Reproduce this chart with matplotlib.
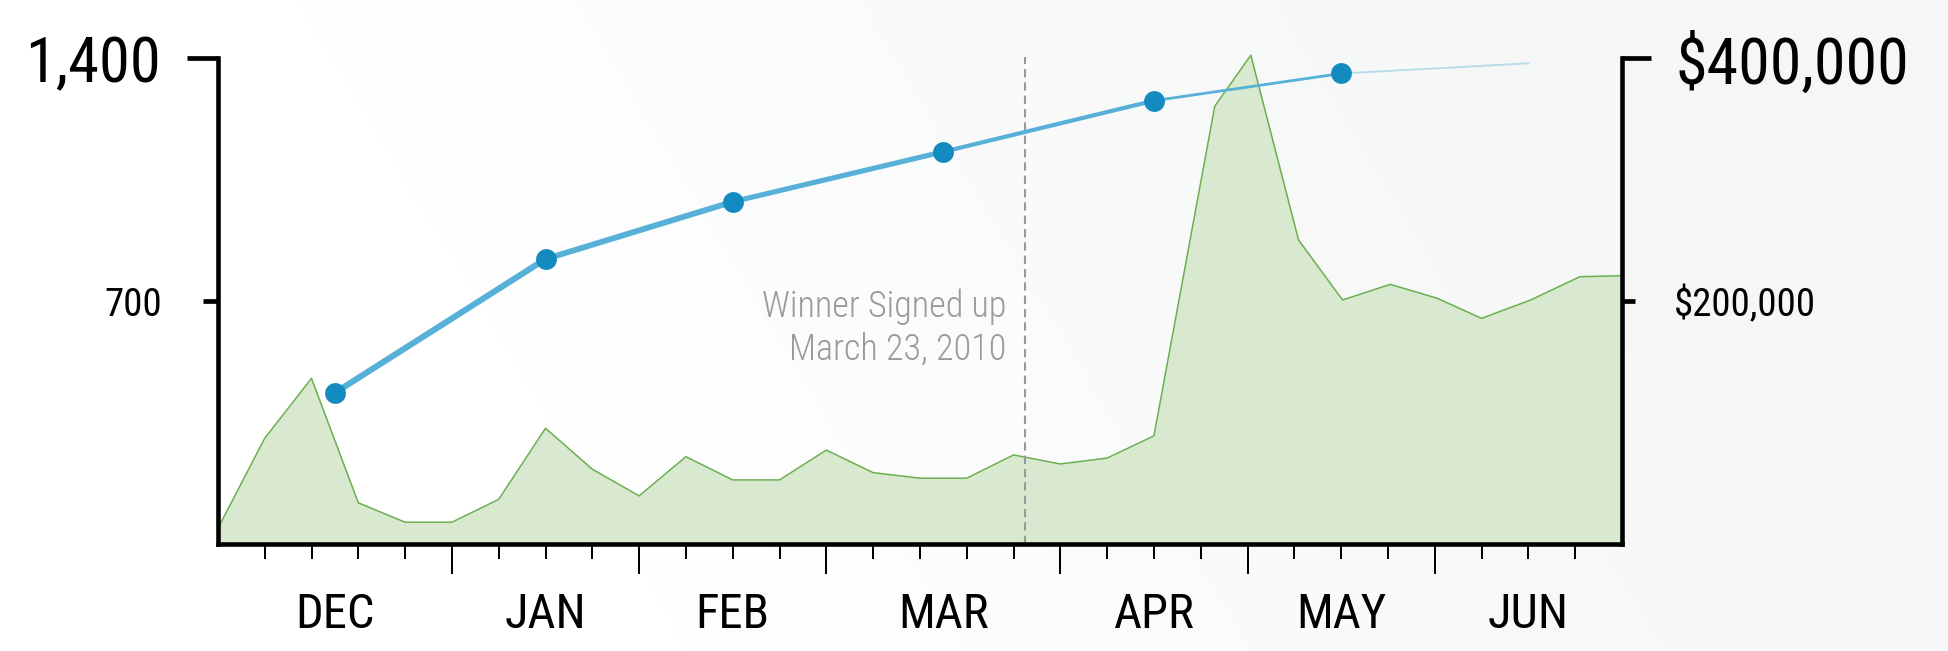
import numpy as np
import matplotlib.pyplot as plt
from matplotlib.colors import LinearSegmentedColormap

plt.rcParams['font.family'] = ['Roboto Condensed', 'Liberation Sans Narrow', 'DejaVu Sans']

# weekly signups (left axis), x in weeks from start of chart
weeks = [0, 1, 2, 3, 4, 5, 6, 7, 8, 9, 10, 11, 12, 13, 14, 15, 16, 17, 18, 19, 20,
         21.3, 22.07, 23.09, 24.03, 25.05, 26.05, 27, 28.05, 29.1, 30]
signups = [44, 304, 477, 118, 62, 62, 128, 333, 215, 138, 251, 184, 184, 270, 205,
           189, 189, 256, 230, 247, 311, 1262, 1409, 876, 703, 748, 708, 650, 703, 770, 773]

# cumulative revenue (right axis), one point per month
months = ['DEC', 'JAN', 'FEB', 'MAR', 'APR', 'MAY', 'JUN']
month_mid = [2.5, 7, 11, 15.5, 20, 24, 28]
month_edges = [5, 9, 13, 18, 22, 26]
revenue = [124400, 234600, 281800, 323000, 365100, 387500, 395900]

signup_x = 17.25
note = 'Winner Signed up\nMarch 23, 2010'

fig = plt.figure(figsize=(19.49, 6.51), dpi=100)

# soft background gradient
bg = fig.add_axes([0, 0, 1, 1], zorder=-10)
xx, yy = np.meshgrid(np.linspace(0, 1, 400), np.linspace(0, 1, 140))
t = np.clip((xx - 0.35 + 0.2 * yy) / 0.65, 0, 1)
cmap = LinearSegmentedColormap.from_list('bg', ['#ffffff', '#f5f6f6'])
bg.imshow(t, cmap=cmap, extent=[0, 1, 0, 1], aspect='auto', origin='lower')
bg.axis('off')

ax = fig.add_axes([0.1118, 0.1648, 0.7204, 0.7456])
ax.patch.set_visible(False)
ax.fill_between(weeks, signups, color='#d9e9cf', lw=0, clip_on=False)
ax.plot(weeks, signups, color='#6aaf4f', lw=1.1, clip_on=False)
ax.plot([signup_x, signup_x], [0, 1405], color='#999999', lw=1.5,
        dashes=(4, 2.4), clip_on=False)
ax.text(signup_x - 0.4, 622, note, ha='right', va='center', fontsize=26,
        color='#9a9a9a', linespacing=1.25, fontweight='light')

ax.set_xlim(0, 30)
ax.set_ylim(0, 1400)

for s in ['top', 'right']:
    ax.spines[s].set_visible(False)
for s in ['left', 'bottom']:
    ax.spines[s].set_linewidth(3.3)
    ax.spines[s].set_capstyle('projecting')

ax.set_yticks([1400], labels=['1,400'])
ax.set_yticks([700], labels=['700'], minor=True)
ax.tick_params(axis='y', which='major', length=22, width=3.4, pad=19, labelsize=45)
ax.tick_params(axis='y', which='minor', length=10.8, width=3.4, pad=29, labelsize=28)

ax.set_xticks(month_edges)
ax.set_xticks([w for w in range(1, 30) if w not in month_edges], minor=True)
ax.tick_params(axis='x', which='major', length=21.6, width=1.44, labelbottom=False)
ax.tick_params(axis='x', which='minor', length=10.8, width=1.44, labelbottom=False)

for m, x in zip(months, month_mid):
    ax.text(x, -0.146, m, transform=ax.get_xaxis_transform(), ha='center',
            va='center', fontsize=35)

ax2 = ax.twinx()
ax2.patch.set_visible(False)
ax2.set_ylim(0, 400000)
for s in ['top', 'left', 'bottom']:
    ax2.spines[s].set_visible(False)
ax2.spines['right'].set_linewidth(3.3)
ax2.spines['right'].set_capstyle('projecting')
ax2.set_yticks([400000], labels=['$400,000'])
ax2.set_yticks([200000], labels=['$200,000'], minor=True)
ax2.tick_params(axis='y', which='major', length=21, width=3.4, pad=17.6, labelsize=46)
ax2.tick_params(axis='y', which='minor', length=9, width=3.4, pad=28.4, labelsize=28)

# revenue line gets thinner toward the end, last piece is a faded projection
widths = [4.4, 4.2, 3.7, 3.0, 2.0, 1.3]
alphas = [1, 1, 1, 1, 1, 0.4]
for i in range(len(revenue) - 1):
    ax2.plot(month_mid[i:i + 2], revenue[i:i + 2], color='#56b0d8', lw=widths[i],
             alpha=alphas[i], solid_capstyle='round', clip_on=False)
ax2.plot(month_mid[:-1], revenue[:-1], 'o', color='#138ac0', ms=15, mew=0,
         clip_on=False)

fig.savefig('out.png', dpi=100)
